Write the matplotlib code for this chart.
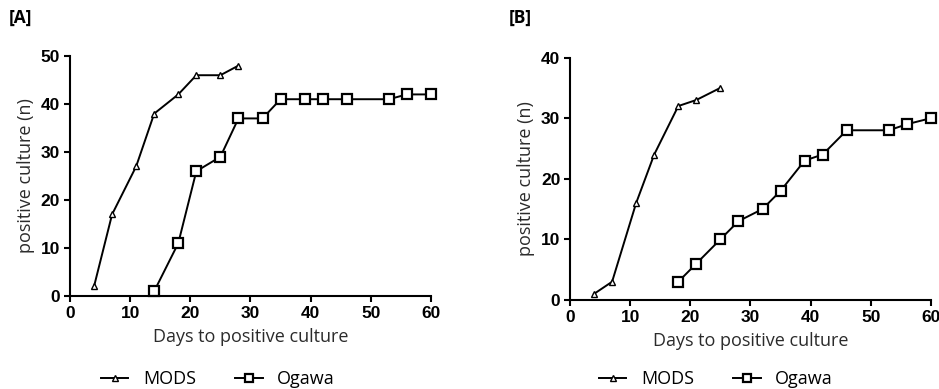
import matplotlib
matplotlib.use("Agg")
import matplotlib.pyplot as plt

# Panel A
a_mods_days = [4, 7, 11, 14, 18, 21, 25, 28]
a_mods_n = [2, 17, 27, 38, 42, 46, 46, 48]
a_ogawa_days = [14, 18, 21, 25, 28, 32, 35, 39, 42, 46, 53, 56, 60]
a_ogawa_n = [1, 11, 26, 29, 37, 37, 41, 41, 41, 41, 41, 42, 42]

# Panel B
b_mods_days = [4, 7, 11, 14, 18, 21, 25]
b_mods_n = [1, 3, 16, 24, 32, 33, 35]
b_ogawa_days = [18, 21, 25, 28, 32, 35, 39, 42, 46, 53, 56, 60]
b_ogawa_n = [3, 6, 10, 13, 15, 18, 23, 24, 28, 28, 29, 30]

x_ticks = [0, 10, 20, 30, 40, 50, 60]
a_y_ticks = [0, 10, 20, 30, 40, 50]
b_y_ticks = [0, 10, 20, 30, 40]

TXT = "#2b2b2b"
LABEL_FONT = "Open Sans"
TICK_FONT = "Liberation Sans"
W, H = 939, 389


def draw_panel(fig, ax, mods_x, mods_y, og_x, og_y, yticks, tag, tag_x, leg_x):
    ax.plot(mods_x, mods_y, color="black", lw=1.4, marker="^", ms=5,
            mfc="white", mec="black", mew=1.0, label="MODS", clip_on=False)
    ax.plot(og_x, og_y, color="black", lw=1.4, marker="s", ms=6.5,
            mfc="white", mec="black", mew=1.6, label="Ogawa", clip_on=False)
    ax.set_xlim(0, 60)
    ax.set_ylim(0, yticks[-1])
    ax.set_xticks(x_ticks)
    ax.set_yticks(yticks)
    for s in ("top", "right"):
        ax.spines[s].set_visible(False)
    for s in ("left", "bottom"):
        ax.spines[s].set_linewidth(1.5)
    ax.tick_params(direction="out", length=4, width=1.5, pad=3)
    for lab in ax.get_xticklabels() + ax.get_yticklabels():
        lab.set_fontfamily(TICK_FONT)
        lab.set_fontweight("bold")
        lab.set_fontsize(12.5)
    ax.set_xlabel("Days to positive culture", fontsize=13, family=LABEL_FONT,
                  color=TXT, labelpad=5)
    ax.set_ylabel("positive culture (n)", fontsize=13, family=LABEL_FONT,
                  color=TXT, labelpad=4)
    ax.legend(loc="center", bbox_to_anchor=(leg_x / W, 1 - 379 / H),
              bbox_transform=fig.transFigure, ncol=2, frameon=False,
              prop={"family": LABEL_FONT, "size": 13}, markerscale=0.8,
              handlelength=1.5, columnspacing=2.2, handletextpad=0.8,
              borderpad=0, borderaxespad=0)
    fig.text(tag_x / W, 1 - 18 / H, tag, fontsize=12.5, fontweight="bold",
             family=LABEL_FONT, color="black", va="center", ha="left")


fig = plt.figure(figsize=(W / 100, H / 100), dpi=100)
ax_a = fig.add_axes([0.0745, 0.239, 0.3845, 0.617])
ax_b = fig.add_axes([0.607, 0.229, 0.3845, 0.623])

draw_panel(fig, ax_a, a_mods_days, a_mods_n, a_ogawa_days, a_ogawa_n,
           a_y_ticks, "[A]", 9, 218)
draw_panel(fig, ax_b, b_mods_days, b_mods_n, b_ogawa_days, b_ogawa_n,
           b_y_ticks, "[B]", 509, 716)

fig.savefig("out.png", dpi=100)
